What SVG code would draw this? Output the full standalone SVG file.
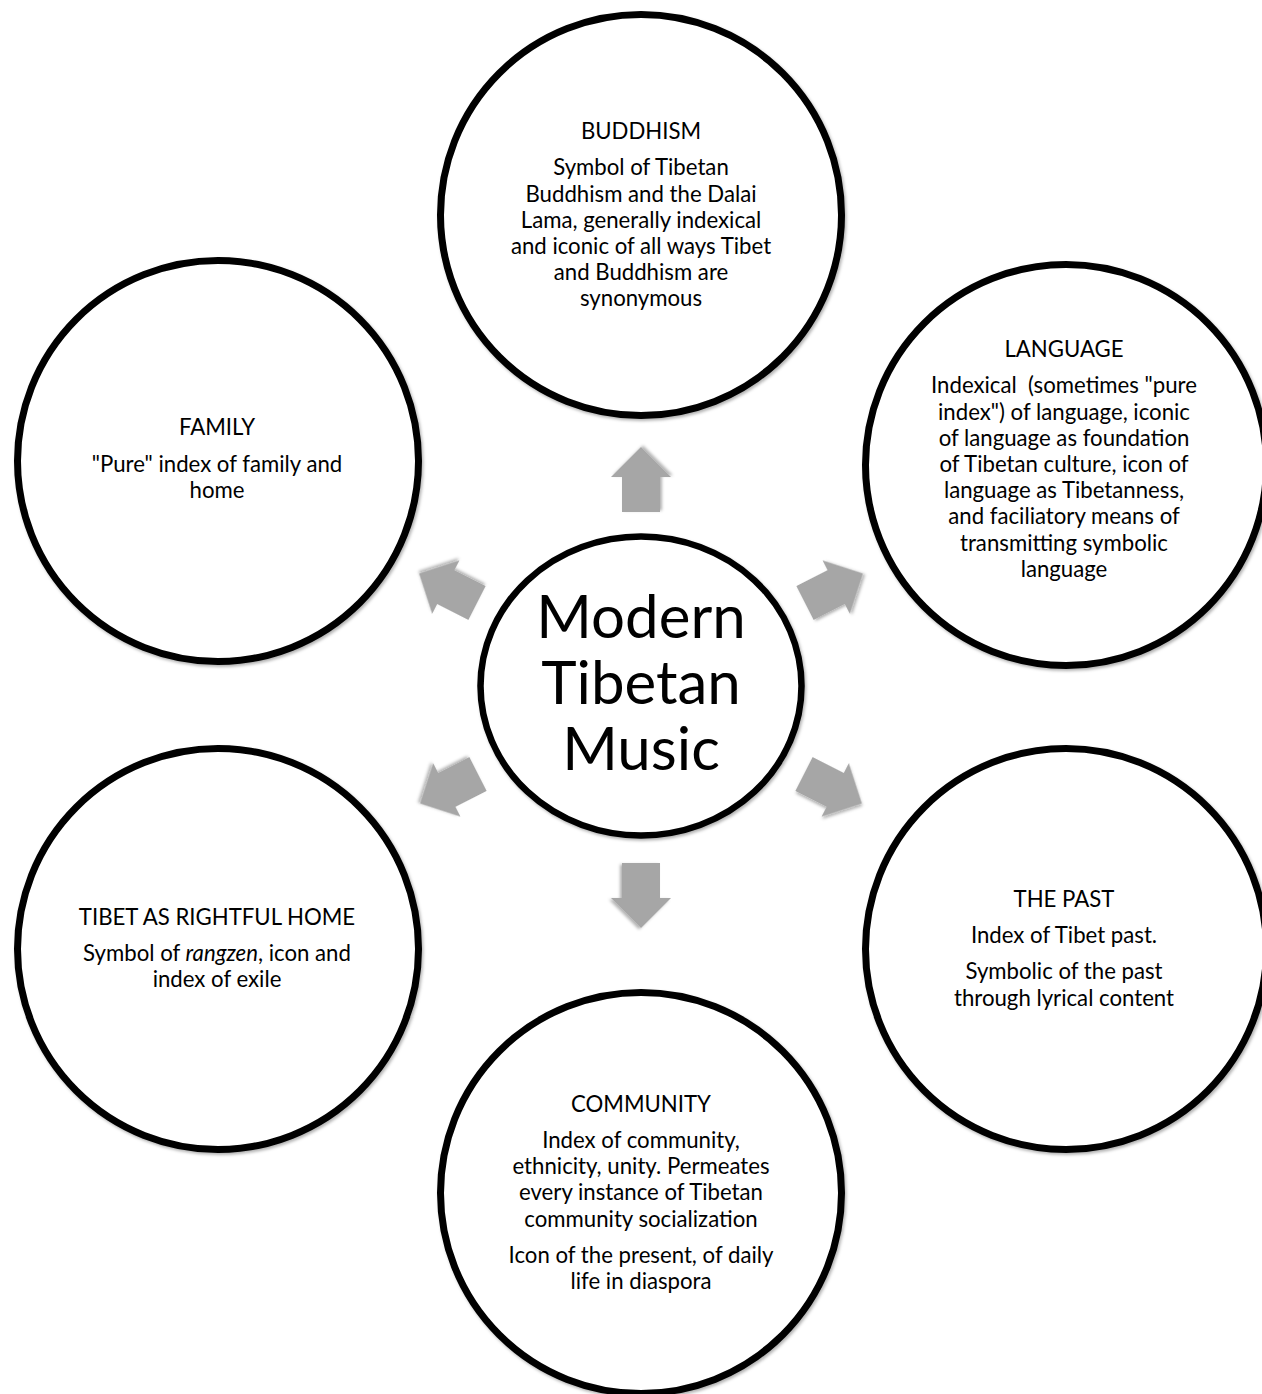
<svg xmlns="http://www.w3.org/2000/svg" width="1262" height="1394" viewBox="0 0 1262 1394">
  <defs>
    <filter id="soft" x="-20%" y="-20%" width="140%" height="140%">
      <feDropShadow dx="1.5" dy="2" stdDeviation="1.8" flood-color="#000" flood-opacity="0.3"/>
    </filter>
    <path id="arrow" d="M0,-19 L35,-19 L35,-30 L65,0 L35,30 L35,19 L0,19 Z"/>
  </defs>
  <style>
    .ring { fill: #ffffff; stroke: #000000; stroke-width: 7; filter: url(#soft); }
    .hub { fill: #ffffff; stroke: #000000; stroke-width: 6.5; filter: url(#soft); }
    .arw { fill: #a6a6a6; filter: url(#soft); }
    text { font-family: Lato, "Liberation Sans", sans-serif; fill: #000000; text-anchor: middle; }
    .t { font-size: 22.2px; }
    .big { font-size: 60px; }
  </style>
  <rect width="1262" height="1394" fill="#ffffff"/>

  <!-- outward arrows from the hub -->
  <g id="connectors">
    <use href="#arrow" class="arw" transform="translate(641,512) rotate(-90)"/>
    <use href="#arrow" class="arw" transform="translate(641,863) rotate(90)"/>
    <use href="#arrow" class="arw" transform="translate(477,603) rotate(207)"/>
    <use href="#arrow" class="arw" transform="translate(805,603) rotate(-27)"/>
    <use href="#arrow" class="arw" transform="translate(478,774) rotate(153)"/>
    <use href="#arrow" class="arw" transform="translate(804,774) rotate(27)"/>
  </g>

  <g id="hub">
    <ellipse class="hub" cx="641" cy="686" rx="160.5" ry="149.5"/>
    <text class="big" x="641" y="638">Modern</text>
    <text class="big" x="641" y="704">Tibetan</text>
    <text class="big" x="641" y="770">Music</text>
  </g>

  <g id="buddhism">
    <circle class="ring" cx="641" cy="215" r="200.5"/>
    <text class="t" x="641" y="139">BUDDHISM</text>
    <text class="t" x="641" y="175">Symbol of Tibetan</text>
    <text class="t" x="641" y="202">Buddhism and the Dalai</text>
    <text class="t" x="641" y="228">Lama, generally indexical</text>
    <text class="t" x="641" y="254">and iconic of all ways Tibet</text>
    <text class="t" x="641" y="280">and Buddhism are</text>
    <text class="t" x="641" y="306">synonymous</text>
  </g>

  <g id="language">
    <circle class="ring" cx="1066" cy="465" r="200.5"/>
    <text class="t" x="1064" y="357">LANGUAGE</text>
    <text class="t" x="1064" y="393" xml:space="preserve">Indexical  (sometimes "pure</text>
    <text class="t" x="1064" y="420">index") of language, iconic</text>
    <text class="t" x="1064" y="446">of language as foundation</text>
    <text class="t" x="1064" y="472">of Tibetan culture, icon of</text>
    <text class="t" x="1064" y="498">language as Tibetanness,</text>
    <text class="t" x="1064" y="524">and faciliatory means of</text>
    <text class="t" x="1064" y="551">transmitting symbolic</text>
    <text class="t" x="1064" y="577">language</text>
  </g>

  <g id="family">
    <circle class="ring" cx="218" cy="461" r="200.5"/>
    <text class="t" x="217" y="435">FAMILY</text>
    <text class="t" x="217" y="472">"Pure" index of family and</text>
    <text class="t" x="217" y="498">home</text>
  </g>

  <g id="rightful-home">
    <circle class="ring" cx="218" cy="949" r="200.5"/>
    <text class="t" x="217" y="925">TIBET AS RIGHTFUL HOME</text>
    <text class="t" x="217" y="961">Symbol of <tspan font-style="italic">rangzen</tspan>, icon and</text>
    <text class="t" x="217" y="987">index of exile</text>
  </g>

  <g id="the-past">
    <circle class="ring" cx="1066" cy="949" r="200.5"/>
    <text class="t" x="1064" y="907">THE PAST</text>
    <text class="t" x="1064" y="943">Index of Tibet past.</text>
    <text class="t" x="1064" y="979">Symbolic of the past</text>
    <text class="t" x="1064" y="1006">through lyrical content</text>
  </g>

  <g id="community">
    <circle class="ring" cx="641" cy="1193" r="200.5"/>
    <text class="t" x="641" y="1112">COMMUNITY</text>
    <text class="t" x="641" y="1148">Index of community,</text>
    <text class="t" x="641" y="1174">ethnicity, unity. Permeates</text>
    <text class="t" x="641" y="1200">every instance of Tibetan</text>
    <text class="t" x="641" y="1227">community socialization</text>
    <text class="t" x="641" y="1263">Icon of the present, of daily</text>
    <text class="t" x="641" y="1289">life in diaspora</text>
  </g>
</svg>
